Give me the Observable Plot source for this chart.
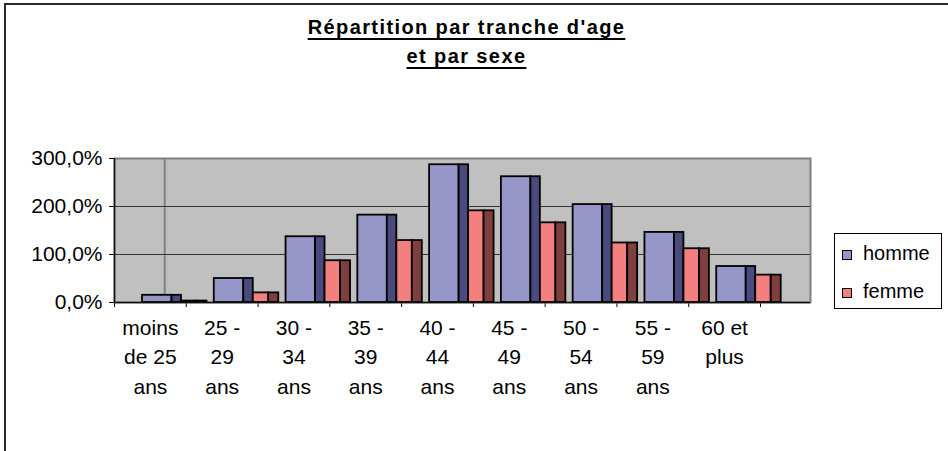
<!DOCTYPE html>
<html><head><meta charset="utf-8">
<script src="https://cdn.jsdelivr.net/npm/d3@7"></script>
<script src="https://cdn.jsdelivr.net/npm/@observablehq/plot@0.6"></script>
<style>
html,body{margin:0;padding:0;background:#fff;}
body{width:948px;height:451px;position:relative;overflow:hidden;font-family:"Liberation Sans",Arial,sans-serif;color:#000;}
#chart{position:absolute;left:0;top:0;}
#frame{position:absolute;left:4px;top:3px;width:980px;height:480px;border-top:2px solid #2a2a2a;border-left:2px solid #2a2a2a;}
#title{position:absolute;left:0;top:13px;width:933px;text-align:center;font-weight:bold;font-size:20px;letter-spacing:1.4px;line-height:29px;}
#title span{text-decoration:underline;text-decoration-thickness:2px;text-underline-offset:4px;}
#legend{position:absolute;left:834px;top:233px;width:106px;height:74px;border:1px solid #000;background:#fff;}
.sw{position:absolute;width:8px;height:8px;border:1px solid #000;}
.lt{position:absolute;font-size:20px;line-height:20px;white-space:nowrap;}
</style>
</head><body>
<div id="frame"></div>
<div id="chart"></div>
<div id="title"><span>Répartition par tranche d'age</span><br><span>et par sexe</span></div>
<div id="legend"></div>
<script>
const categories = ["moins\nde 25\nans", "25 -\n29\nans", "30 -\n34\nans", "35 -\n39\nans", "40 -\n44\nans", "45 -\n49\nans", "50 -\n54\nans", "55 -\n59\nans", "60 et\nplus"];
const homme = [15, 50, 137, 182, 287, 262, 204, 146, 75];
const femme = [3, 20, 87, 129, 191, 166, 124, 112, 57];
const seriesNames = ["homme", "femme"];
const seriesFront = ["#9696c8", "#f47f7f"];
const seriesSide = ["#4a4a7e", "#7f3f3f"];
const yTicks = [0, 100, 200, 300];
const yTickLabels = ["0,0%", "100,0%", "200,0%", "300,0%"];
const gridValues = [100, 200];
const xBoundaries = d3.range(categories.length + 1);
const wallLine = [0.7];

const rows = categories.map((c, i) => ({i, c, homme: homme[i], femme: femme[i]}));

const barOpts = {x1: d => d.i, x2: d => d.i + 1, y1: 0, stroke: "#000", strokeWidth: 1.8};

const chart = Plot.plot({
  width: 948,
  height: 451,
  marginTop: 158,
  marginBottom: 149,
  marginLeft: 114,
  marginRight: 138,
  style: {fontSize: "21px", fontFamily: "'Liberation Sans', Arial, sans-serif", color: "#000", background: "transparent"},
  x: {domain: [0, categories.length], range: [114, 760], ticks: xBoundaries, tickSize: 5, tickFormat: () => "", label: null},
  y: {domain: [0, 300], ticks: yTicks, tickSize: 5, tickPadding: 7, tickFormat: d => yTickLabels[yTicks.indexOf(d)], label: null},
  marks: [
    Plot.frame({fill: "#c0c0c0", stroke: "#808080", strokeWidth: 2}),
    Plot.ruleX(wallLine, {stroke: "#808080", strokeWidth: 2}),
    Plot.ruleY(gridValues, {stroke: "#333", strokeWidth: 1}),
    Plot.rectY(rows, {...barOpts, y2: "homme", fill: seriesFront[0], insetLeft: 28, insetRight: 14.3}),
    Plot.rectY(rows, {...barOpts, y2: "homme", fill: seriesSide[0], insetLeft: 57.5, insetRight: 4.8}),
    Plot.rectY(rows, {...barOpts, y2: "femme", fill: seriesFront[1], insetLeft: 67, insetRight: -10.7}),
    Plot.rectY(rows, {...barOpts, y2: "femme", fill: seriesSide[1], insetLeft: 82.5, insetRight: -20.7}),
    Plot.ruleY([0], {stroke: "#111", strokeWidth: 1.5}),
    Plot.ruleX([0], {y1: 0, y2: 300, stroke: "#111", strokeWidth: 1.5}),
    Plot.text(rows, {x: d => d.i + 0.5, y: 0, text: "c", lineAnchor: "top", dy: 11, fontSize: 21, lineHeight: 1.41, fill: "#000"})
  ]
});
document.getElementById("chart").appendChild(chart);

// legend
const body = document.body;
seriesNames.forEach((name, k) => {
  const sw = document.createElement("div");
  sw.className = "sw";
  sw.style.left = "842px";
  sw.style.top = (250 + k * 37.5) + "px";
  sw.style.background = seriesFront[k];
  body.appendChild(sw);
  const t = document.createElement("div");
  t.className = "lt";
  t.style.left = "863px";
  t.style.top = (243 + k * 38) + "px";
  t.textContent = name;
  body.appendChild(t);
});
</script>
</body></html>
